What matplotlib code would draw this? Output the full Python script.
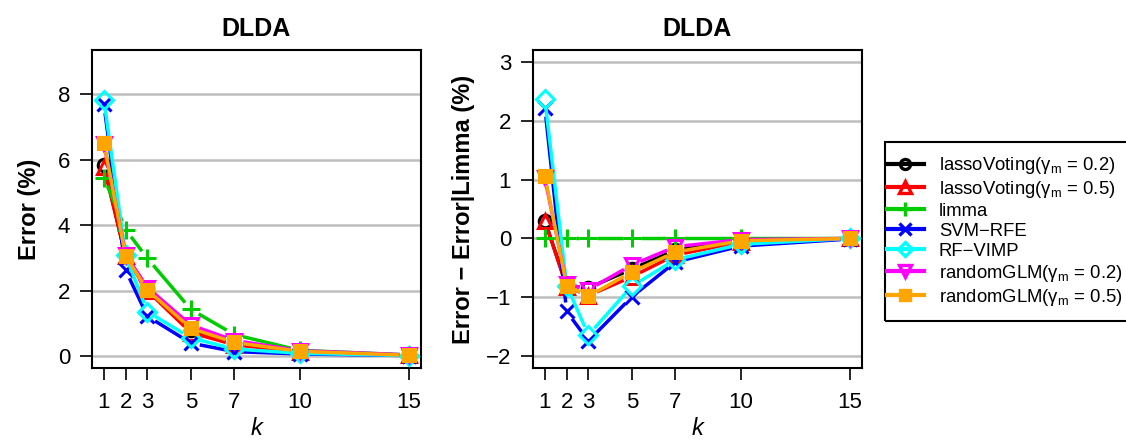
import numpy as np
import matplotlib
matplotlib.use("Agg")
import matplotlib.pyplot as plt
from matplotlib.lines import Line2D
from matplotlib.patches import Rectangle

plt.rcParams['font.family'] = ['Liberation Sans', 'DejaVu Sans']
plt.rcParams['mathtext.fontset'] = 'custom'
plt.rcParams['mathtext.rm'] = 'Liberation Sans'
plt.rcParams['mathtext.it'] = 'Liberation Sans:italic'

# ---- data ---------------------------------------------------------------
k = [1, 2, 3, 5, 7, 10, 15]
k_ticks = [1, 2, 3, 5, 7, 10, 15]

labels = [r"lassoVoting($\mathregular{\gamma_m}$ = 0.2)",
          r"lassoVoting($\mathregular{\gamma_m}$ = 0.5)",
          "limma",
          "SVM\u2212RFE",
          "RF\u2212VIMP",
          r"randomGLM($\mathregular{\gamma_m}$ = 0.2)",
          r"randomGLM($\mathregular{\gamma_m}$ = 0.5)"]

# error (%) per k
err_lasso02 = [5.85, 3.05, 2.10, 0.80, 0.40, 0.15, 0.03]
err_lasso05 = [5.79, 3.05, 2.00, 0.72, 0.35, 0.13, 0.03]
err_limma   = [5.46, 3.87, 2.99, 1.43, 0.66, 0.18, 0.04]
err_svm     = [7.70, 2.63, 1.22, 0.40, 0.14, 0.07, 0.02]
err_rf      = [7.83, 3.08, 1.36, 0.56, 0.22, 0.09, 0.02]
err_rglm02  = [6.50, 3.10, 2.10, 0.95, 0.48, 0.17, 0.04]
err_rglm05  = [6.52, 3.06, 2.02, 0.85, 0.42, 0.15, 0.03]

# error minus limma error (%) per k
diff_lasso02 = [0.30, -0.80, -0.84, -0.52, -0.20, -0.04, 0.00]
diff_lasso05 = [0.30, -0.82, -0.97, -0.65, -0.28, -0.06, 0.00]
diff_limma   = [0.00, 0.00, 0.00, 0.00, 0.00, 0.00, 0.00]
diff_svm     = [2.22, -1.24, -1.74, -0.99, -0.40, -0.13, -0.01]
diff_rf      = [2.36, -0.80, -1.64, -0.81, -0.36, -0.10, 0.00]
diff_rglm02  = [1.02, -0.77, -0.87, -0.45, -0.14, -0.02, 0.00]
diff_rglm05  = [1.06, -0.80, -0.98, -0.57, -0.23, -0.04, 0.00]

errors = [err_lasso02, err_lasso05, err_limma, err_svm, err_rf,
          err_rglm02, err_rglm05]
diffs = [diff_lasso02, diff_lasso05, diff_limma, diff_svm, diff_rf,
         diff_rglm02, diff_rglm05]

# ---- styles -------------------------------------------------------------
colors = ["#000000", "#FF0000", "#00CD00", "#0000FF", "#00FFFF",
          "#FF00FF", "#FFA500"]
markers = ["o", "^", "+", "x", "D", "v", "s"]
msizes = [9, 10.5, 13, 10, 9.5, 10.5, 8.5]
filled = [False, False, False, False, False, False, True]

LW = 2.5
MEW = 2.2
GAP = 9.0  # pixels of empty line around each point


def draw_b(ax, x, y, color, marker, ms, fill):
    """Line + points with small gaps around points."""
    x = np.asarray(x, float)
    y = np.asarray(y, float)
    pts = ax.transData.transform(np.column_stack([x, y]))
    for i in range(len(x) - 1):
        d = pts[i + 1] - pts[i]
        L = np.hypot(*d)
        if L <= 2 * GAP:
            continue
        t = GAP / L
        xa = x[i] + t * (x[i + 1] - x[i])
        ya = y[i] + t * (y[i + 1] - y[i])
        xb = x[i + 1] - t * (x[i + 1] - x[i])
        yb = y[i + 1] - t * (y[i + 1] - y[i])
        ax.plot([xa, xb], [ya, yb], color=color, lw=LW,
                solid_capstyle="butt", zorder=3)
    ax.plot(x, y, linestyle="none", marker=marker, ms=ms, mew=MEW,
            mec=color, mfc=(color if fill else "none"), zorder=3)


fig = plt.figure(figsize=(11.26, 4.41), dpi=100)
W, H = 1126.0, 441.0


def make_axes(x0, ylim, yticks):
    ax = fig.add_axes([x0 / W, 73 / H, 329 / W, 318 / H])
    ax.set_xlim(0.44, 15.56)
    ax.set_ylim(*ylim)
    ax.set_xticks(k_ticks)
    ax.set_xticklabels([str(v) for v in k_ticks])
    ax.set_yticks(yticks)
    ax.set_yticklabels([("\u2212" + str(-v)) if v < 0 else str(v) for v in yticks])
    for yv in yticks:
        ax.axhline(yv, color="#BEBEBE", lw=1.8, zorder=1)
    for s in ax.spines.values():
        s.set_linewidth(1.5)
    ax.tick_params(direction="out", length=8.5, width=1.2, labelsize=16,
                   pad=7)
    ax.tick_params(axis="x", pad=9)
    ax.set_title("DLDA", fontsize=18, fontweight="bold", pad=10)
    ax.set_xlabel("k", fontsize=17, style="italic", labelpad=3)
    return ax


ax1 = make_axes(91.7, (-0.36, 9.36), [0, 2, 4, 6, 8])
ax1.set_ylabel("Error (%)", fontsize=17, fontweight="bold", labelpad=12)
for ys, c, m, ms, f in zip(errors, colors, markers, msizes, filled):
    draw_b(ax1, k, ys, c, m, ms, f)

ax2 = make_axes(532.7, (-2.2, 3.2), [-2, -1, 0, 1, 2, 3])
ax2.set_ylabel("Error \u2212 Error|Limma (%)", fontsize=17,
               fontweight="bold", labelpad=8)
for ys, c, m, ms, f in zip(diffs, colors, markers, msizes, filled):
    draw_b(ax2, k, ys, c, m, ms, f)

# legend box
fig.patches.append(Rectangle((884.7 / W, 1 - 320.7 / H), 250 / W, 179 / H,
                             transform=fig.transFigure, fill=False,
                             edgecolor="black", linewidth=1.5))
handles = [Line2D([], [], color=c, lw=3, marker=m, ms=ms * 0.8, mew=2.4,
                  mec=c, mfc=(c if f else "none"))
           for c, m, ms, f in zip(colors, markers, msizes, filled)]
leg = fig.legend(handles, labels, loc="upper left",
                 bbox_to_anchor=(887 / W, 1 - 155 / H),
                 fontsize=13.3, frameon=False,
                 handlelength=2.0, handletextpad=0.8, labelspacing=0.16,
                 borderpad=0, borderaxespad=0)

fig.savefig("out.png", dpi=100)
